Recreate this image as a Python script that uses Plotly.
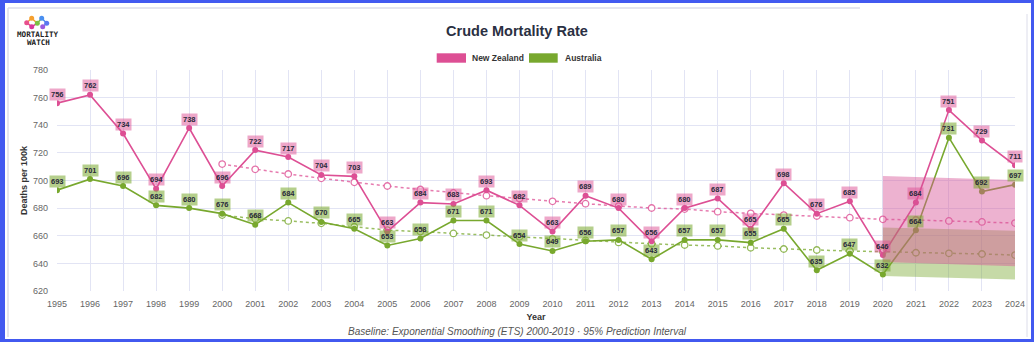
import plotly.graph_objects as go

# ---------------- data ----------------
years = list(range(1995, 2025))
nz_cmr = [756, 762, 734, 694, 738, 696, 722, 717, 704, 703, 663, 684, 683, 693, 682,
          663, 689, 680, 656, 680, 687, 665, 698, 676, 685, 646, 684, 751, 729, 711]
au_cmr = [693, 701, 696, 682, 680, 676, 668, 684, 670, 665, 653, 658, 671, 671, 654,
          649, 656, 657, 643, 657, 657, 655, 665, 635, 647, 632, 664, 731, 692, 697]

baseline_years = list(range(2000, 2025))
nz_baseline = [711.9, 708.1, 704.7, 701.6, 698.7, 696.0, 693.5, 691.0, 689.0, 687.0,
               684.9, 683.2, 681.5, 680.1, 679.3, 677.4, 676.2, 675.0, 674.3, 673.1,
               671.9, 671.4, 670.7, 670.0, 669.2]
au_baseline = [675.0, 672.3, 670.7, 669.0, 666.5, 664.1, 663.0, 661.7, 660.5, 659.2,
               657.8, 656.6, 655.2, 654.2, 653.3, 652.6, 651.3, 650.4, 649.7, 648.9,
               648.5, 647.7, 647.3, 646.8, 646.0]

pi_years = [2020, 2021, 2022, 2023, 2024]
nz_pi_upper = [703.2, 702.5, 701.8, 701.0, 700.3]
nz_pi_lower = [641.0, 640.2, 639.5, 638.8, 638.0]
au_pi_upper = [665.9, 665.3, 664.7, 664.2, 663.6]
au_pi_lower = [630.8, 630.2, 629.6, 629.0, 628.4]

series_names = ["New Zealand", "Australia"]
y_ticks = [620, 640, 660, 680, 700, 720, 740, 760, 780]

# ---------------- styles ----------------
NZ = "#DD4F94"
AU = "#78A82E"
FONT = "Liberation Sans, Arial, sans-serif"
W_PX, H_PX = 1034, 342
L, R, T, B = 57, 1015, 70, 291


def px(x):
    return (x - L) / (R - L)


def py(y):
    return (B - y) / (B - T)


fig = go.Figure()

# baselines
fig.add_trace(go.Scatter(x=baseline_years, y=nz_baseline, mode="lines+markers",
                         line=dict(color="rgba(221,79,148,0.75)", width=1.5, dash="dot"),
                         marker=dict(symbol="circle", size=6.5, color="white",
                                     line=dict(color="rgba(221,79,148,0.8)", width=1.3)),
                         showlegend=False, hoverinfo="skip"))
fig.add_trace(go.Scatter(x=baseline_years, y=au_baseline, mode="lines+markers",
                         line=dict(color="rgba(120,168,46,0.75)", width=1.5, dash="dot"),
                         marker=dict(symbol="circle", size=6.5, color="white",
                                     line=dict(color="rgba(120,168,46,0.8)", width=1.3)),
                         showlegend=False, hoverinfo="skip"))

# observed
fig.add_trace(go.Scatter(x=years, y=nz_cmr, mode="lines+markers", name=series_names[0],
                         line=dict(color=NZ, width=1.6),
                         marker=dict(size=6, color=NZ), showlegend=False))
fig.add_trace(go.Scatter(x=years, y=au_cmr, mode="lines+markers", name=series_names[1],
                         line=dict(color=AU, width=1.6),
                         marker=dict(size=6, color=AU), showlegend=False))

# prediction intervals
fig.add_trace(go.Scatter(x=pi_years, y=au_pi_upper, mode="lines", line=dict(width=0),
                         showlegend=False, hoverinfo="skip"))
fig.add_trace(go.Scatter(x=pi_years, y=au_pi_lower, mode="lines", line=dict(width=0),
                         fill="tonexty", fillcolor="rgba(120,168,46,0.42)",
                         showlegend=False, hoverinfo="skip"))
fig.add_trace(go.Scatter(x=pi_years, y=nz_pi_upper, mode="lines", line=dict(width=0),
                         showlegend=False, hoverinfo="skip"))
fig.add_trace(go.Scatter(x=pi_years, y=nz_pi_lower, mode="lines", line=dict(width=0),
                         fill="tonexty", fillcolor="rgba(214,84,150,0.45)",
                         showlegend=False, hoverinfo="skip"))

annotations = []
# data labels
for vals, bg in ((nz_cmr, "rgba(221,79,148,0.5)"), (au_cmr, "rgba(120,168,46,0.55)")):
    for x, v in zip(years, vals):
        annotations.append(dict(x=x, y=v, xref="x", yref="y", text=str(v), showarrow=False,
                                yshift=9, bgcolor=bg, borderpad=1,
                                font=dict(family=FONT, size=7.5, color="#2a2a3a", weight="bold")))

# legend (drawn)
shapes = []
legend_items = [(series_names[0], NZ, 436.7, 466.0, 470.0),
                (series_names[1], AU, 529.0, 557.7, 562.7)]
for name, col, x0, x1, tx in legend_items:
    shapes.append(dict(type="rect", xref="paper", yref="paper", x0=px(x0), x1=px(x1),
                       y0=py(62.7), y1=py(53.3), fillcolor=col, line=dict(width=0)))
    annotations.append(dict(xref="paper", yref="paper", x=px(tx), y=py(58), text=name,
                            showarrow=False, xanchor="left", yanchor="middle",
                            font=dict(family=FONT, size=8.5, color="#333", weight="bold")))

# caption
annotations.append(dict(xref="paper", yref="paper", x=px(517.5), y=py(331),
                        text="Baseline: Exponential Smoothing (ETS) 2000-2019 · 95% Prediction Interval",
                        showarrow=False, xanchor="center", yanchor="middle",
                        font=dict(family=FONT, size=10, color="#555", style="italic")))

# logo
logo_dots = [(31.7, 18.3, "#F5A030"), (26.7, 22.7, "#E8508C"), (31.7, 26.7, "#D8389A"),
             (37.3, 23.3, "#7CC242"), (41.7, 18.3, "#4A8FF0"), (46.7, 23.3, "#5A78F0"),
             (42.7, 26.7, "#9A5AE0")]
logo_links = [(0, 1), (1, 2), (2, 3), (3, 4), (4, 5), (5, 6), (0, 3)]
for a, b in logo_links:
    xa, ya, ca = logo_dots[a]
    xb, yb, _ = logo_dots[b]
    shapes.append(dict(type="line", xref="paper", yref="paper", x0=px(xa), y0=py(ya),
                       x1=px(xb), y1=py(yb), line=dict(color=ca, width=1.5)))
for x, y, c in logo_dots:
    shapes.append(dict(type="circle", xref="paper", yref="paper", x0=px(x - 2.5), x1=px(x + 2.5),
                       y0=py(y + 2.5), y1=py(y - 2.5), fillcolor=c, line=dict(width=0)))
annotations.append(dict(xref="paper", yref="paper", x=px(37.7), y=py(35), text="MORTALITY",
                        showarrow=False, xanchor="center", yanchor="middle",
                        font=dict(family="DejaVu Sans Mono", size=7.6, color="#222", weight="bold")))
annotations.append(dict(xref="paper", yref="paper", x=px(38), y=py(42.7), text="WATCH",
                        showarrow=False, xanchor="center", yanchor="middle",
                        font=dict(family="DejaVu Sans Mono", size=7.6, color="#222", weight="bold")))

# card border
card = "#DCDDEA"
shapes += [
    dict(type="line", xref="paper", yref="paper", x0=px(8), x1=px(860), y0=py(8), y1=py(8),
         line=dict(color=card, width=1.5)),
    dict(type="line", xref="paper", yref="paper", x0=px(8), x1=px(8), y0=py(8), y1=py(337),
         line=dict(color=card, width=1.5)),
    dict(type="line", xref="paper", yref="paper", x0=px(1027), x1=px(1027), y0=py(14), y1=py(337),
         line=dict(color=card, width=1)),
]
# blue frame
BLUE = "#4259F0"
for x0, x1, y0, y1 in ((0, 5, 0, 342), (1031, 1034, 0, 342), (0, 1034, 0, 3), (0, 1034, 339, 342)):
    shapes.append(dict(type="rect", xref="paper", yref="paper", x0=px(x0), x1=px(x1),
                       y0=py(y1), y1=py(y0), fillcolor=BLUE, line=dict(width=0), layer="above"))

fig.update_layout(
    width=W_PX, height=H_PX,
    margin=dict(l=L, r=W_PX - R, t=T, b=H_PX - B, autoexpand=False),
    paper_bgcolor="white", plot_bgcolor="white",
    title=dict(text="Crude Mortality Rate", xref="container", x=0.5, xanchor="center",
               yref="container", y=1 - 30.7 / H_PX, yanchor="middle",
               font=dict(family=FONT, size=14.5, color="#2A3042", weight="bold")),
    showlegend=False,
    annotations=annotations,
    shapes=shapes,
    xaxis=dict(range=[1995, 2024], tickmode="array", tickvals=years,
               ticktext=[str(y) for y in years], showgrid=True, gridcolor="#E2E4F4",
               gridwidth=1, zeroline=False, showline=False, ticks="",
               ticklabelstandoff=6,
               tickfont=dict(family=FONT, size=9, color="#666"),
               title=dict(text="Year", standoff=5,
                          font=dict(family=FONT, size=9, color="#333", weight="bold")),
               automargin=False),
    yaxis=dict(range=[620, 780], tickmode="array", tickvals=y_ticks,
               showgrid=True, gridcolor="#E2E4F4", gridwidth=1, zeroline=False,
               showline=False, ticks="", ticklabelstandoff=8,
               tickfont=dict(family=FONT, size=9, color="#666"),
               title=dict(text="Deaths per 100k", standoff=3,
                          font=dict(family=FONT, size=9, color="#333", weight="bold")),
               automargin=False),
)

fig.write_html("out.html")
